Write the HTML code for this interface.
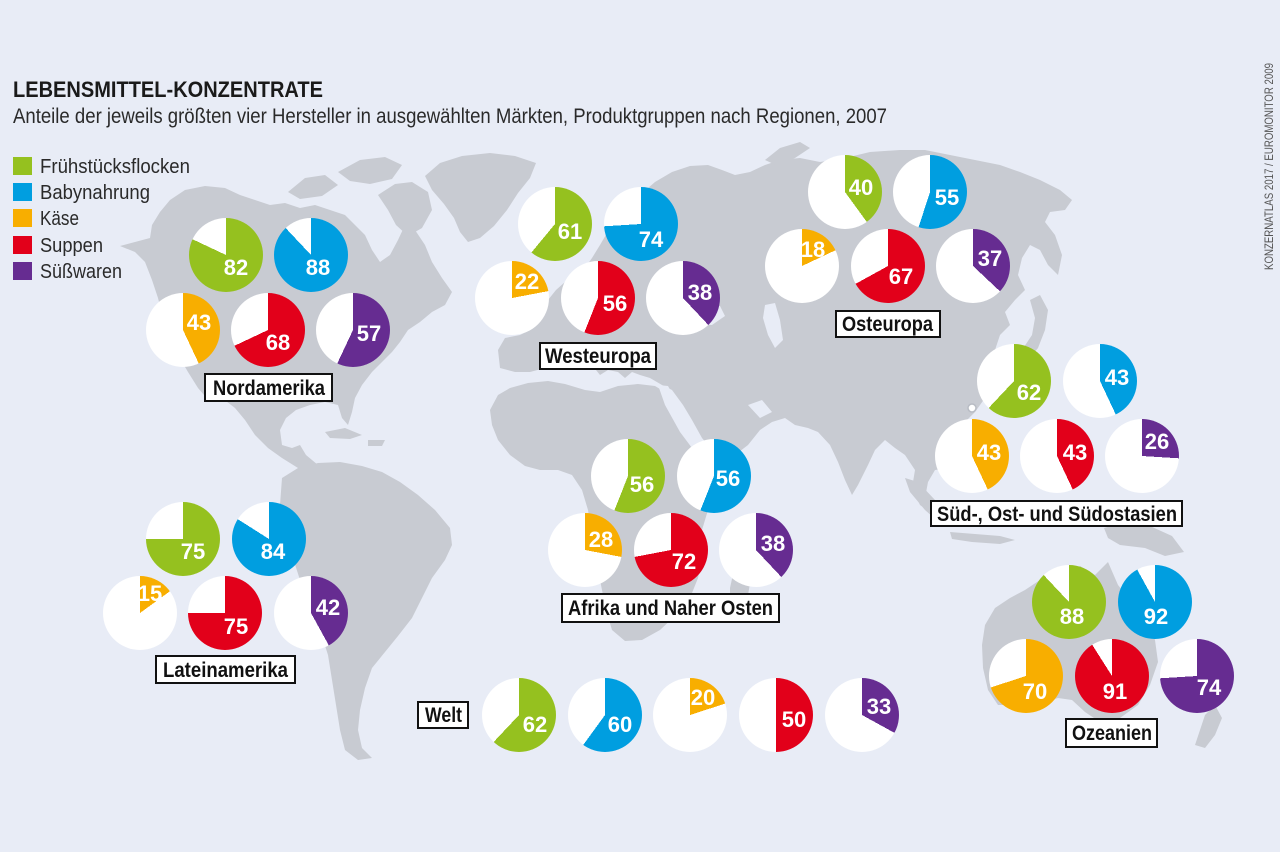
<!DOCTYPE html>
<html><head><meta charset="utf-8">
<style>
html,body{margin:0;padding:0;}
body{width:1280px;height:852px;background:#e8ecf6;position:relative;overflow:hidden;font-family:"Liberation Sans",sans-serif;}
svg{position:absolute;left:0;top:0;}
.p{position:absolute;width:74px;height:74px;border-radius:50%;}
</style></head>
<body>
<svg width="1280" height="852" viewBox="0 0 1280 852">
<g fill="#c8cbd2">
<!-- North America -->
<path d="M120,246 L150,238 L152,225 L160,212 L170,200 L185,190 L205,186 L225,188 L240,195 L255,200 L270,205 L285,203 L300,208 L315,205 L330,210 L345,215 L355,225 L365,235 L372,250 L380,262 L390,255 L398,240 L405,225 L415,230 L425,245 L432,262 L442,278 L452,292 L445,305 L432,312 L420,322 L408,330 L400,342 L392,352 L382,362 L372,372 L362,385 L355,398 L352,412 L348,425 L342,418 L338,405 L325,402 L310,405 L296,410 L286,418 L280,430 L282,445 L292,448 L300,445 L306,455 L318,465 L330,475 L340,482 L345,492 L336,490 L325,482 L312,475 L298,468 L282,458 L268,448 L255,435 L245,420 L235,408 L222,398 L212,392 L204,380 L215,398 L210,402 L198,388 L188,372 L178,355 L170,338 L163,318 L158,298 L152,280 L145,262 L135,252 Z"/>
<!-- Arctic islands -->
<path d="M288,192 L305,178 L325,175 L338,185 L322,196 L300,199 Z"/>
<path d="M338,172 L360,160 L385,157 L402,165 L392,179 L370,184 L350,181 Z"/>
<path d="M378,195 L395,184 L412,182 L428,192 L432,210 L422,228 L408,236 L396,225 L388,210 Z"/>
<!-- Greenland -->
<path d="M425,176 L440,163 L462,156 L490,153 L515,156 L536,163 L530,178 L518,193 L507,210 L494,226 L480,238 L468,242 L460,232 L454,218 L444,204 L432,190 Z"/>
<!-- Caribbean -->
<path d="M325,432 L345,428 L362,435 L350,439 L330,438 Z"/>
<path d="M368,440 L385,440 L382,446 L368,446 Z"/>
<!-- South America -->
<path d="M282,478 L298,468 L318,463 L340,462 L362,466 L382,472 L400,482 L418,495 L435,510 L450,528 L452,545 L445,560 L432,578 L422,598 L412,618 L398,636 L385,652 L372,668 L365,688 L360,710 L358,730 L362,748 L372,758 L358,760 L345,750 L340,730 L336,705 L332,680 L328,655 L320,630 L310,605 L300,580 L292,555 L285,530 L280,505 Z"/>
<!-- Eurasia -->
<path d="M500,368 L498,350 L505,338 L520,335 L530,330 L540,318 L548,300 L556,290 L565,282 L575,272 L585,268 L592,258 L600,245 L610,228 L625,210 L640,195 L655,182 L672,172 L690,166 L708,165 L722,170 L735,175 L750,172 L765,165 L780,160 L800,158 L820,162 L845,158 L870,152 L900,150 L925,150 L950,155 L975,160 L1000,165 L1020,172 L1040,180 L1060,190 L1072,200 L1065,210 L1050,212 L1045,222 L1055,235 L1062,255 L1058,275 L1048,265 L1040,250 L1030,245 L1022,258 L1018,275 L1025,290 L1015,300 L1005,312 L1010,325 L1000,335 L995,350 L998,365 L992,382 L985,398 L975,412 L962,425 L955,440 L960,455 L950,468 L935,470 L928,482 L925,498 L930,512 L920,505 L912,488 L915,470 L905,455 L895,448 L885,440 L875,450 L868,465 L858,485 L852,495 L845,480 L838,462 L830,445 L818,432 L808,428 L795,425 L785,418 L772,422 L760,430 L748,445 L735,455 L722,458 L712,450 L702,438 L692,420 L683,405 L672,390 L662,385 L650,378 L640,375 L632,372 L625,378 L618,372 L608,370 L600,375 L592,365 L585,355 L575,345 L565,350 L558,360 L545,368 L530,372 L515,372 Z"/>
<!-- Novaya Zemlya -->
<path d="M765,160 L780,148 L800,142 L810,148 L795,158 L778,166 Z"/>
<!-- Japan -->
<path d="M1030,300 L1040,295 L1048,310 L1045,330 L1038,348 L1028,360 L1018,362 L1022,350 L1032,335 L1035,318 Z"/>
<!-- Africa -->
<path d="M490,410 L498,395 L510,388 L528,383 L548,381 L565,384 L585,390 L600,392 L618,386 L638,384 L655,386 L665,392 L672,410 L680,428 L690,445 L700,458 L718,462 L735,458 L730,478 L718,495 L708,510 L702,530 L703,555 L698,578 L690,598 L676,615 L660,630 L642,640 L625,641 L612,630 L606,610 L601,585 L596,560 L592,535 L588,510 L582,490 L572,475 L558,470 L540,470 L525,466 L510,455 L498,440 L492,425 Z"/>
<path d="M735,565 L745,558 L752,572 L748,595 L740,612 L730,608 L730,588 Z"/>
<!-- SE Asia islands -->
<path d="M905,478 L918,482 L935,500 L948,518 L942,525 L925,510 L910,492 Z"/>
<path d="M950,532 L975,534 L1000,536 L1015,540 L1000,544 L972,542 L952,539 Z"/>
<path d="M1104,528 L1125,522 L1150,526 L1172,536 L1184,552 L1165,556 L1145,548 L1120,545 L1108,538 Z"/>
<!-- Australia -->
<path d="M985,625 L995,608 L1010,598 L1025,590 L1040,580 L1055,573 L1068,575 L1080,566 L1095,575 L1108,562 L1118,585 L1130,600 L1145,618 L1155,640 L1158,662 L1150,685 L1138,705 L1120,718 L1100,722 L1085,712 L1072,700 L1058,698 L1045,702 L1030,700 L1012,705 L998,705 L988,690 L983,668 L982,645 Z"/>
<path d="M1095,728 L1108,726 L1106,738 L1097,738 Z"/>
<!-- New Zealand -->
<path d="M1205,715 L1215,705 L1222,718 L1215,735 L1205,748 L1195,745 L1200,730 Z"/>
</g>
<g fill="#e8ecf6">
<path d="M690,310 L705,303 L720,306 L725,316 L712,325 L695,324 Z"/>
<path d="M765,305 L775,303 L780,320 L783,340 L775,348 L768,335 L763,318 Z"/>
<path d="M658,385 L668,386 L690,425 L705,452 L698,456 L680,432 L665,405 Z"/>
<path d="M748,405 L762,400 L772,412 L760,418 Z"/>
</g>
<circle cx="972" cy="408" r="4" fill="#fff" stroke="#b8bcc4" stroke-width="1.5"/>
</svg>

<!-- Pies -->
<div class="p" style="left:189px;top:218px;background:conic-gradient(#95c11f 0 82%,#fff 0)"></div>
<div class="p" style="left:274px;top:218px;background:conic-gradient(#009ee0 0 88%,#fff 0)"></div>
<div class="p" style="left:146px;top:293px;background:conic-gradient(#f8ae00 0 43%,#fff 0)"></div>
<div class="p" style="left:231px;top:293px;background:conic-gradient(#e2001a 0 68%,#fff 0)"></div>
<div class="p" style="left:316px;top:293px;background:conic-gradient(#662c91 0 57%,#fff 0)"></div>

<div class="p" style="left:518px;top:187px;background:conic-gradient(#95c11f 0 61%,#fff 0)"></div>
<div class="p" style="left:604px;top:187px;background:conic-gradient(#009ee0 0 74%,#fff 0)"></div>
<div class="p" style="left:475px;top:261px;background:conic-gradient(#f8ae00 0 22%,#fff 0)"></div>
<div class="p" style="left:561px;top:261px;background:conic-gradient(#e2001a 0 56%,#fff 0)"></div>
<div class="p" style="left:646px;top:261px;background:conic-gradient(#662c91 0 38%,#fff 0)"></div>

<div class="p" style="left:808px;top:155px;background:conic-gradient(#95c11f 0 40%,#fff 0)"></div>
<div class="p" style="left:893px;top:155px;background:conic-gradient(#009ee0 0 55%,#fff 0)"></div>
<div class="p" style="left:765px;top:229px;background:conic-gradient(#f8ae00 0 18%,#fff 0)"></div>
<div class="p" style="left:851px;top:229px;background:conic-gradient(#e2001a 0 67%,#fff 0)"></div>
<div class="p" style="left:936px;top:229px;background:conic-gradient(#662c91 0 37%,#fff 0)"></div>

<div class="p" style="left:977px;top:344px;background:conic-gradient(#95c11f 0 62%,#fff 0)"></div>
<div class="p" style="left:1063px;top:344px;background:conic-gradient(#009ee0 0 43%,#fff 0)"></div>
<div class="p" style="left:935px;top:419px;background:conic-gradient(#f8ae00 0 43%,#fff 0)"></div>
<div class="p" style="left:1020px;top:419px;background:conic-gradient(#e2001a 0 43%,#fff 0)"></div>
<div class="p" style="left:1105px;top:419px;background:conic-gradient(#662c91 0 26%,#fff 0)"></div>

<div class="p" style="left:591px;top:439px;background:conic-gradient(#95c11f 0 56%,#fff 0)"></div>
<div class="p" style="left:677px;top:439px;background:conic-gradient(#009ee0 0 56%,#fff 0)"></div>
<div class="p" style="left:548px;top:513px;background:conic-gradient(#f8ae00 0 28%,#fff 0)"></div>
<div class="p" style="left:634px;top:513px;background:conic-gradient(#e2001a 0 72%,#fff 0)"></div>
<div class="p" style="left:719px;top:513px;background:conic-gradient(#662c91 0 38%,#fff 0)"></div>

<div class="p" style="left:146px;top:502px;background:conic-gradient(#95c11f 0 75%,#fff 0)"></div>
<div class="p" style="left:232px;top:502px;background:conic-gradient(#009ee0 0 84%,#fff 0)"></div>
<div class="p" style="left:103px;top:576px;background:conic-gradient(#f8ae00 0 15%,#fff 0)"></div>
<div class="p" style="left:188px;top:576px;background:conic-gradient(#e2001a 0 75%,#fff 0)"></div>
<div class="p" style="left:274px;top:576px;background:conic-gradient(#662c91 0 42%,#fff 0)"></div>

<div class="p" style="left:1032px;top:565px;background:conic-gradient(#95c11f 0 88%,#fff 0)"></div>
<div class="p" style="left:1118px;top:565px;background:conic-gradient(#009ee0 0 92%,#fff 0)"></div>
<div class="p" style="left:989px;top:639px;background:conic-gradient(#f8ae00 0 70%,#fff 0)"></div>
<div class="p" style="left:1075px;top:639px;background:conic-gradient(#e2001a 0 91%,#fff 0)"></div>
<div class="p" style="left:1160px;top:639px;background:conic-gradient(#662c91 0 74%,#fff 0)"></div>

<div class="p" style="left:482px;top:678px;background:conic-gradient(#95c11f 0 62%,#fff 0)"></div>
<div class="p" style="left:568px;top:678px;background:conic-gradient(#009ee0 0 60%,#fff 0)"></div>
<div class="p" style="left:653px;top:678px;background:conic-gradient(#f8ae00 0 20%,#fff 0)"></div>
<div class="p" style="left:739px;top:678px;background:conic-gradient(#e2001a 0 50%,#fff 0)"></div>
<div class="p" style="left:825px;top:678px;background:conic-gradient(#662c91 0 33%,#fff 0)"></div>

<svg width="1280" height="852" viewBox="0 0 1280 852" font-family="'Liberation Sans', sans-serif">
<!-- Title -->
<text x="13" y="97" font-size="22" font-weight="bold" fill="#1a1a1a" textLength="310" lengthAdjust="spacingAndGlyphs">LEBENSMITTEL-KONZENTRATE</text>
<text x="13" y="123" font-size="21" fill="#2a2a2a" textLength="874" lengthAdjust="spacingAndGlyphs">Anteile der jeweils größten vier Hersteller in ausgewählten Märkten, Produktgruppen nach Regionen, 2007</text>
<!-- Legend -->
<rect x="13" y="157" width="19" height="18" fill="#95c11f"/>
<rect x="13" y="183" width="19" height="18" fill="#009ee0"/>
<rect x="13" y="209" width="19" height="18" fill="#f8ae00"/>
<rect x="13" y="236" width="19" height="18" fill="#e2001a"/>
<rect x="13" y="262" width="19" height="18" fill="#662c91"/>
<g font-size="20" fill="#2a2a2a">
<text x="40" y="173" textLength="150" lengthAdjust="spacingAndGlyphs">Frühstücksflocken</text>
<text x="40" y="199" textLength="110" lengthAdjust="spacingAndGlyphs">Babynahrung</text>
<text x="40" y="225" textLength="39" lengthAdjust="spacingAndGlyphs">Käse</text>
<text x="40" y="252" textLength="63" lengthAdjust="spacingAndGlyphs">Suppen</text>
<text x="40" y="278" textLength="82" lengthAdjust="spacingAndGlyphs">Süßwaren</text>
</g>
<!-- Credit -->
<text transform="translate(1273,270) rotate(-90)" font-size="12" fill="#555" textLength="207" lengthAdjust="spacingAndGlyphs">KONZERNATLAS 2017 / EUROMONITOR 2009</text>

<!-- Pie numbers -->
<g font-size="22" font-weight="bold" fill="#fff" text-anchor="middle">
<text x="236" y="275">82</text><text x="318" y="275">88</text><text x="199" y="330">43</text><text x="278" y="350">68</text><text x="369" y="341">57</text>
<text x="570" y="239">61</text><text x="651" y="247">74</text><text x="527" y="289">22</text><text x="615" y="311">56</text><text x="700" y="300">38</text>
<text x="861" y="195">40</text><text x="947" y="205">55</text><text x="813" y="257">18</text><text x="901" y="284">67</text><text x="990" y="266">37</text>
<text x="1029" y="400">62</text><text x="1117" y="385">43</text><text x="989" y="460">43</text><text x="1075" y="460">43</text><text x="1157" y="449">26</text>
<text x="642" y="492">56</text><text x="728" y="486">56</text><text x="601" y="547">28</text><text x="684" y="569">72</text><text x="773" y="551">38</text>
<text x="193" y="559">75</text><text x="273" y="559">84</text><text x="150" y="601">15</text><text x="236" y="634">75</text><text x="328" y="615">42</text>
<text x="1072" y="624">88</text><text x="1156" y="624">92</text><text x="1035" y="699">70</text><text x="1115" y="699">91</text><text x="1209" y="695">74</text>
<text x="535" y="732">62</text><text x="620" y="732">60</text><text x="703" y="705">20</text><text x="794" y="727">50</text><text x="879" y="714">33</text>
</g>

<!-- Region labels -->
<g fill="#fff" stroke="#111" stroke-width="2">
<rect x="205" y="374" width="127" height="27"/>
<rect x="540" y="343" width="116" height="26"/>
<rect x="836" y="311" width="104" height="26"/>
<rect x="931" y="501" width="251" height="25"/>
<rect x="562" y="594" width="217" height="28"/>
<rect x="156" y="656" width="139" height="27"/>
<rect x="1066" y="719" width="91" height="28"/>
<rect x="418" y="702" width="50" height="26"/>
</g>
<g font-size="21" font-weight="bold" fill="#111">
<text x="213" y="395" textLength="112" lengthAdjust="spacingAndGlyphs">Nordamerika</text>
<text x="545" y="363" textLength="106" lengthAdjust="spacingAndGlyphs">Westeuropa</text>
<text x="842" y="331" textLength="91" lengthAdjust="spacingAndGlyphs">Osteuropa</text>
<text x="937" y="521" textLength="240" lengthAdjust="spacingAndGlyphs">Süd-, Ost- und Südostasien</text>
<text x="568" y="615" textLength="205" lengthAdjust="spacingAndGlyphs">Afrika und Naher Osten</text>
<text x="163" y="677" textLength="125" lengthAdjust="spacingAndGlyphs">Lateinamerika</text>
<text x="1072" y="740" textLength="80" lengthAdjust="spacingAndGlyphs">Ozeanien</text>
<text x="425" y="722" textLength="37" lengthAdjust="spacingAndGlyphs">Welt</text>
</g>
</svg>
</body></html>
